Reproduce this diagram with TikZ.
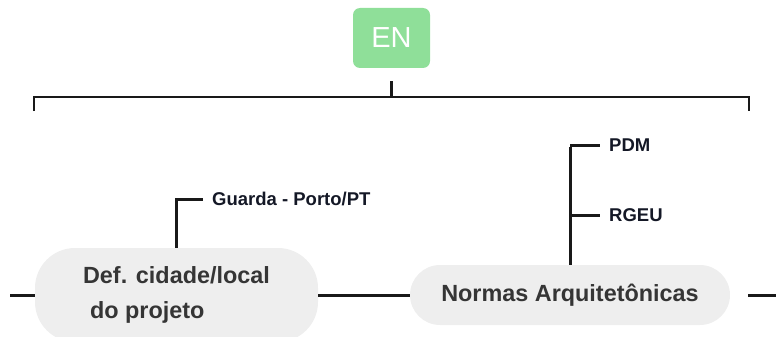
\documentclass[tikz,border=0pt]{standalone}
\usepackage{fontspec}
\setmainfont{Liberation Sans}
\usetikzlibrary{positioning}
\definecolor{engreen}{HTML}{8FDF99}
\definecolor{pillgray}{HTML}{EEEEEE}
\definecolor{maintext}{HTML}{353535}
\definecolor{leaftext}{HTML}{141826}
\tikzset{
  topic/.style={fill=pillgray, text=maintext, font=\fontsize{23.4}{35}\selectfont\bfseries, inner sep=0pt},
  leaf/.style={anchor=west, text=leaftext, font=\fontsize{18.5}{20}\selectfont\bfseries, inner ysep=0pt, inner xsep=9pt},
  link/.style={line width=3pt, black!90}
}
\begin{document}
\begin{tikzpicture}[x=1pt, y=-1pt]
	\useasboundingbox (0,0) rectangle (776,337);
	% root
	\node[fill=engreen, text=white, rounded corners=7pt, minimum width=77pt, minimum height=60pt,
	      font=\fontsize{29}{30}\selectfont] (en) at (391.5,38) {EN};
	% bracket
	\coordinate (bl) at (34,111);
	\coordinate (br) at (749,111);
	\draw[link, line width=2.4pt] ([yshift=-13pt]en.south) -- ++(0,16);
	\draw[link, line width=2.4pt] (bl) |- (391.5,97) -| (br);
	% topics
	\node[topic, rounded corners=40pt, minimum width=283pt, minimum height=94pt, align=left] (def) at (176.5,295)
		{Def. cidade/local\\\hspace*{7pt}do projeto};
	\node[topic, rounded corners=30pt, minimum width=320pt, minimum height=60pt] (normas) at (570,295)
		{Normas Arquitetônicas};
	% main line
	\coordinate (mainl) at (10,295);
	\coordinate (mainr) at (748,295);
	\draw[link] (mainl) -- (def.west);
	\draw[link] (def.east) -- (normas.west);
	\draw[link] (mainr) -- (776,295);
	% leaves
	\node[leaf] (guarda) at (203,199) {Guarda - Porto/PT};
	\draw[link] (def.north) |- (guarda.west);
	\foreach \n/\y/\lab in {pdm/145/PDM, rgeu/215/RGEU} {
		\node[leaf] (\n) at (600,\y) {\lab};
		\draw[link] (normas.north |- \n.west) -- (\n.west);
	}
	\draw[link] (normas.north) -- ([yshift=-1.5pt]normas.north |- pdm.west);
\end{tikzpicture}
\end{document}
